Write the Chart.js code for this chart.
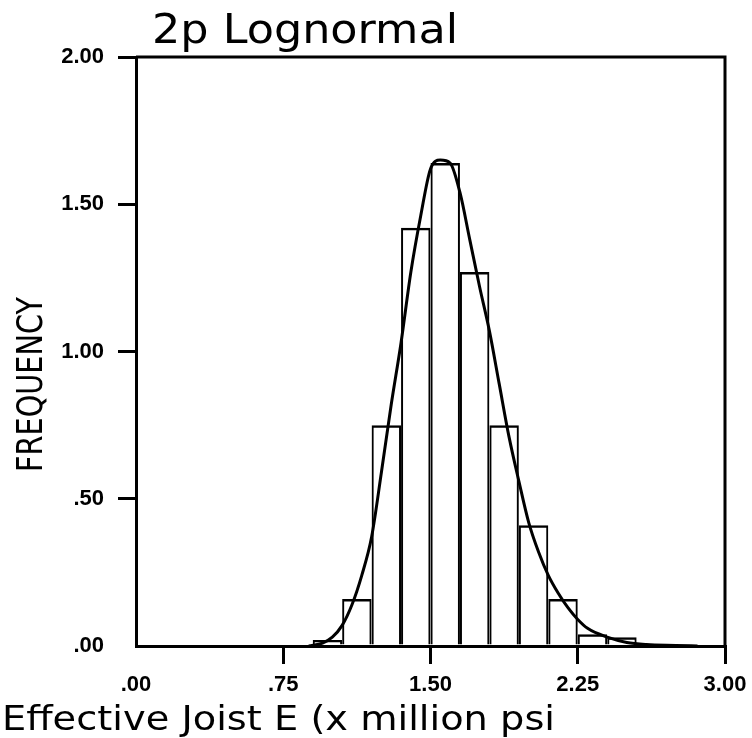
<!DOCTYPE html>
<html>
<head>
<meta charset="utf-8">
<script src="https://cdn.jsdelivr.net/npm/chart.js@4/dist/chart.umd.min.js"></script>
<style>
  body { margin: 0; background: #fff; }
  canvas { display: block; }
</style>
</head>
<body>
<canvas id="histChart" width="752" height="738"></canvas>
<script>
// histogram bins (left edge, x million psi) and frequencies
const binStart = [0.90, 1.05, 1.20, 1.35, 1.50, 1.65, 1.80, 1.95, 2.10, 2.25, 2.40];
const binWidth = 0.15;
const binFreq = [0.02, 0.16, 0.75, 1.42, 1.64, 1.27, 0.75, 0.41, 0.16, 0.04, 0.03];

// fitted 2p lognormal curve
const curveX = [0.88, 0.95, 1.00, 1.05, 1.10, 1.15, 1.20, 1.25, 1.30, 1.35, 1.40, 1.45, 1.50, 1.55, 1.60,
                1.65, 1.70, 1.75, 1.80, 1.85, 1.90, 1.95, 2.00, 2.05, 2.10, 2.15, 2.20, 2.25, 2.30, 2.40,
                2.50, 2.60, 2.75, 2.86];
const curveY = [0.00, 0.01, 0.03, 0.07, 0.14, 0.24, 0.37, 0.59, 0.82, 1.03, 1.27, 1.46, 1.62, 1.65, 1.64,
                1.54, 1.38, 1.22, 1.07, 0.89, 0.71, 0.56, 0.42, 0.32, 0.24, 0.18, 0.13, 0.09, 0.06, 0.03,
                0.012, 0.005, 0.002, 0.00];

const xTickLabels = ['.00', '.75', '1.50', '2.25', '3.00'];
const yTickLabels = ['.00', '.50', '1.00', '1.50', '2.00'];

const chartTitle = '2p Lognormal';
const xTitle = 'Effective Joist E (x million psi';
const yTitle = 'FREQUENCY';

// draws text stretched to a given width
function fitText(ctx, text, font, x, y, w, angle) {
  ctx.save();
  ctx.font = font;
  ctx.fillStyle = '#000';
  ctx.textBaseline = 'alphabetic';
  ctx.textAlign = 'left';
  const m = ctx.measureText(text).width;
  ctx.translate(x, y);
  if (angle) ctx.rotate(angle);
  ctx.scale(w / m, 1);
  ctx.fillText(text, 0, 0);
  ctx.restore();
}

const frame = {
  id: 'frame',
  afterDatasetsDraw(chart) {
    const { ctx, chartArea: a } = chart;
    ctx.save();
    ctx.strokeStyle = '#000';
    ctx.lineWidth = 3;
    ctx.beginPath();
    ctx.moveTo(a.left, a.top);
    ctx.lineTo(a.right, a.top);
    ctx.lineTo(a.right, a.bottom);
    ctx.stroke();
    ctx.restore();
  },
  afterDraw(chart) {
    const ctx = chart.ctx;
    fitText(ctx, chartTitle, '40px "DejaVu Sans"', 152, 43, 306);
    fitText(ctx, xTitle, '34px "DejaVu Sans"', 2, 730, 553);
    fitText(ctx, yTitle, '36px "DejaVu Sans"', 42, 472, 175, -Math.PI / 2);
  }
};

const tickColor = (c) => (c.tick && c.tick.value === 0 ? 'rgba(0,0,0,0)' : '#000');

const ctx = document.getElementById('histChart').getContext('2d');
new Chart(ctx, {
  type: 'bar',
  data: {
    datasets: [{
      type: 'line',
      data: curveX.map((x, i) => ({ x: x, y: curveY[i] })),
      borderColor: '#000',
      borderWidth: 3,
      pointRadius: 0,
      cubicInterpolationMode: 'monotone',
      fill: false,
      order: 0
    }, {
      type: 'bar',
      data: binStart.map((s, i) => ({ x: s + binWidth / 2, y: binFreq[i] })),
      backgroundColor: 'rgba(255,255,255,0)',
      borderColor: '#000',
      borderWidth: { top: 2.5, left: 2, right: 2, bottom: 0 },
      inflateAmount: 0,
      barPercentage: 1,
      categoryPercentage: 1,
      order: 1
    }]
  },
  options: {
    responsive: false,
    animation: false,
    layout: { padding: { top: 57, right: 27, left: 0, bottom: 0 } },
    plugins: { legend: { display: false }, tooltip: { enabled: false } },
    scales: {
      x: {
        type: 'linear',
        min: 0,
        max: 3,
        offset: false,
        afterFit: (s) => { s.height = 92; s.paddingLeft = 0; s.paddingRight = 0; },
        ticks: {
          stepSize: 0.75,
          padding: 8,
          color: '#000',
          font: { family: '"Liberation Sans"', size: 22, weight: 'bold' },
          maxRotation: 0,
          callback: (v, i) => xTickLabels[i]
        },
        grid: { offset: false, drawOnChartArea: false, tickLength: 18, lineWidth: 3, color: tickColor },
        border: { display: true, color: '#000', width: 3 }
      },
      y: {
        min: 0,
        max: 2,
        afterFit: (s) => { s.width = 136; s.paddingTop = 0; s.paddingBottom = 0; },
        ticks: {
          stepSize: 0.5,
          padding: 14,
          color: '#000',
          font: { family: '"Liberation Sans"', size: 22, weight: 'bold' },
          callback: (v, i) => yTickLabels[i]
        },
        grid: { drawOnChartArea: false, tickLength: 18, lineWidth: 3, color: tickColor },
        border: { display: true, color: '#000', width: 3 }
      }
    }
  },
  plugins: [frame]
});
</script>
</body>
</html>
